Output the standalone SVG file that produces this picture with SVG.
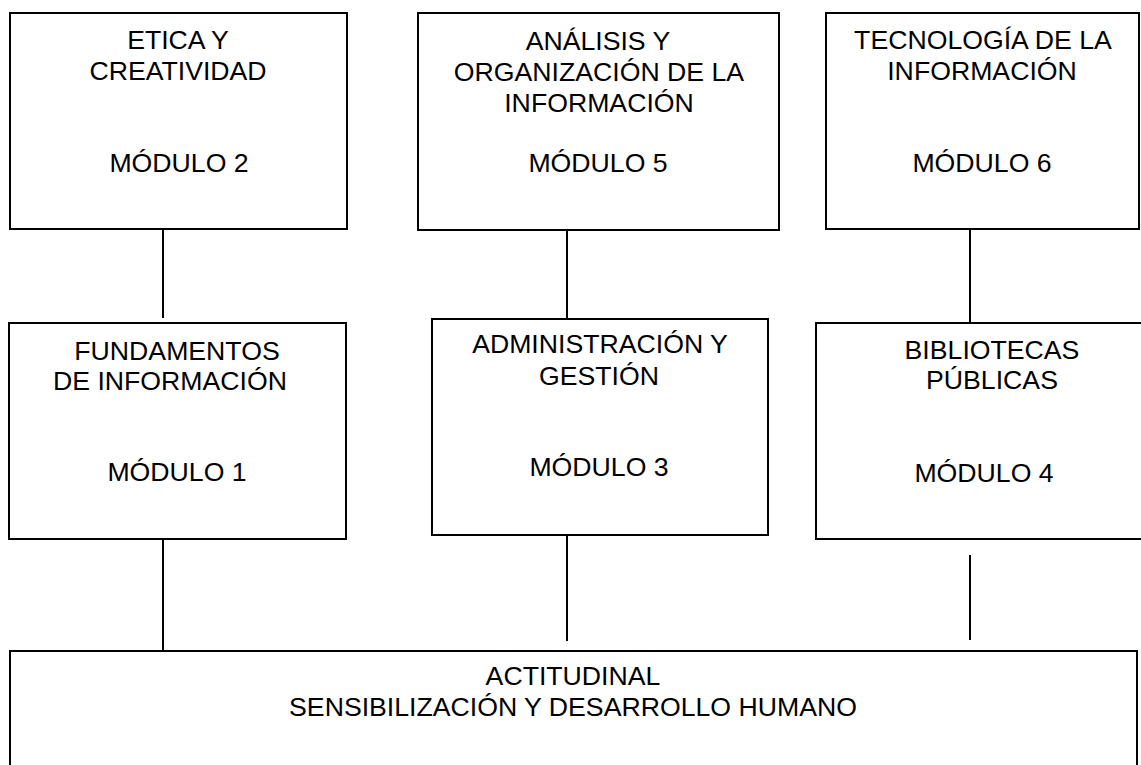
<svg xmlns="http://www.w3.org/2000/svg" width="1141" height="765" viewBox="0 0 1141 765">
<style>
rect.box{fill:#fff;stroke:#000;stroke-width:2}
line{stroke:#000;stroke-width:2}
text{font-family:"Liberation Sans",Arial,sans-serif;font-size:26.67px;fill:#000;text-anchor:middle}
</style>
<rect width="1141" height="765" fill="#fff"/>
<g id="connectors">
<line x1="163" y1="229" x2="163" y2="318"/>
<line x1="567" y1="230" x2="567" y2="319"/>
<line x1="970" y1="229" x2="970" y2="323"/>
<line x1="163" y1="539" x2="163" y2="651"/>
<line x1="567" y1="535" x2="567" y2="641"/>
<line x1="970" y1="555" x2="970" y2="640"/>
</g>
<g id="mod2">
<rect class="box" x="10" y="13" width="337" height="216"/>
<text x="178" y="49">ETICA Y</text>
<text x="178" y="80">CREATIVIDAD</text>
<text x="179" y="172">MÓDULO 2</text>
</g>
<g id="mod5">
<rect class="box" x="418" y="13" width="361" height="217"/>
<text x="598" y="50">ANÁLISIS Y</text>
<text x="599" y="81">ORGANIZACIÓN DE LA</text>
<text x="599" y="112">INFORMACIÓN</text>
<text x="598" y="172">MÓDULO 5</text>
</g>
<g id="mod6">
<rect class="box" x="826" y="13" width="313" height="216"/>
<text x="983" y="49">TECNOLOGÍA DE LA</text>
<text x="982" y="80">INFORMACIÓN</text>
<text x="982" y="172">MÓDULO 6</text>
</g>
<g id="mod1">
<rect class="box" x="9" y="323" width="337" height="216"/>
<text x="177" y="360">FUNDAMENTOS</text>
<text x="170" y="390">DE INFORMACIÓN</text>
<text x="177" y="481">MÓDULO 1</text>
</g>
<g id="mod3">
<rect class="box" x="432" y="319" width="336" height="216"/>
<text x="600" y="353">ADMINISTRACIÓN Y</text>
<text x="599" y="385">GESTIÓN</text>
<text x="599" y="476">MÓDULO 3</text>
</g>
<g id="mod4">
<rect class="box" x="816" y="323" width="340" height="216"/>
<text x="992" y="359">BIBLIOTECAS</text>
<text x="992" y="389">PÚBLICAS</text>
<text x="984" y="482">MÓDULO 4</text>
</g>
<g id="actitudinal">
<rect class="box" x="10" y="651" width="1127" height="140"/>
<text x="573" y="685">ACTITUDINAL</text>
<text x="573" y="716">SENSIBILIZACIÓN Y DESARROLLO HUMANO</text>
</g>
</svg>
